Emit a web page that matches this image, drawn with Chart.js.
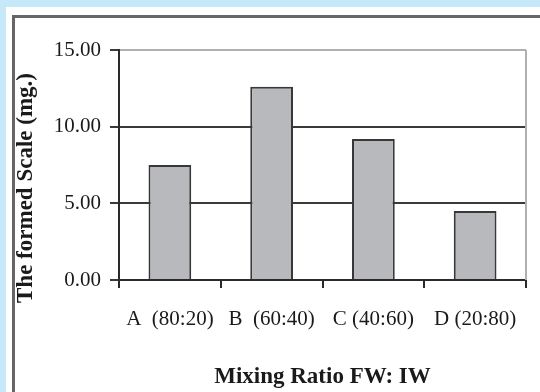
<!DOCTYPE html>
<html>
<head>
<meta charset="utf-8">
<script src="https://cdn.jsdelivr.net/npm/chart.js@4"></script>
<style>
  body { margin: 0; background: #c6e9f9; }
  #panel { position: absolute; left: 6px; top: 7px; width: 534px; height: 385px; background: #fff; }
  #frame { position: absolute; left: 12px; top: 15px; width: 540px; height: 390px;
           border-left: 3px solid #666; border-top: 3px solid #666; }
  #wrap { position: absolute; left: 0; top: 0; width: 540px; height: 392px; }
</style>
</head>
<body>
<div id="panel"></div>
<div id="frame"></div>
<div id="wrap"><canvas id="scaleChart" width="540" height="392"></canvas></div>
<script>
// mixing ratio categories and formed scale (mg.)
const categories = ['A  (80:20)', 'B  (60:40)', 'C (40:60)', 'D (20:80)'];
const scaleValues = [7.5, 12.6, 9.2, 4.5];
const yTicks = [0, 5, 10, 15];
const yTitle = 'The formed Scale (mg.)';
const xTitle = 'Mixing Ratio FW: IW';

const serif = "'Liberation Serif', 'Times New Roman', serif";

// light grey frame on the right side of the plot area + y title
const plotFrame = {
    id: 'plotFrame',
    afterDraw(chart) {
        const { ctx, chartArea } = chart;
        ctx.save();
        ctx.strokeStyle = '#b0b0b0';
        ctx.lineWidth = 2;
        ctx.beginPath();
        ctx.moveTo(chartArea.right, chartArea.top);
        ctx.lineTo(chartArea.right, chartArea.bottom);
        ctx.stroke();
        // y axis title, sits a bit lower than the plot centre
        ctx.translate(26, (chartArea.top + chartArea.bottom) / 2 + 23);
        ctx.rotate(-Math.PI / 2);
        ctx.fillStyle = '#1a1a1a';
        ctx.font = 'bold 23px ' + serif;
        ctx.textAlign = 'center';
        ctx.textBaseline = 'middle';
        ctx.fillText(yTitle, 0, 0);
        ctx.restore();
    }
};

const ctx = document.getElementById('scaleChart').getContext('2d');
const chart = new Chart(ctx, {
    type: 'bar',
    data: {
        labels: categories,
        datasets: [{
            data: scaleValues,
            backgroundColor: '#b7b9bc',
            borderColor: '#383838',
            borderWidth: 2,
            categoryPercentage: 1,
            barPercentage: 0.42
        }]
    },
    options: {
        responsive: false,
        animation: false,
        layout: { padding: { left: 0, top: 50, right: 14, bottom: 0 } },
        plugins: { legend: { display: false }, tooltip: { enabled: false } },
        scales: {
            x: {
                afterFit: (s) => { s.height = 112; },
                border: { color: '#2a2a2a', width: 2 },
                grid: { drawOnChartArea: false, drawTicks: true, tickLength: 8, color: '#2a2a2a', lineWidth: 2 },
                ticks: { color: '#1a1a1a', font: { family: serif, size: 21 }, padding: 19, maxRotation: 0 },
                title: { display: true, text: xTitle, color: '#1a1a1a', font: { family: serif, size: 23, weight: 'bold' }, padding: { top: 0, bottom: 1 } }
            },
            y: {
                min: 0,
                max: 15,
                afterFit: (s) => { s.width = 119; },
                afterBuildTicks: (s) => { s.ticks = yTicks.map(v => ({ value: v })); },
                border: { color: '#2a2a2a', width: 2 },
                grid: {
                    color: (c) => c.tick && c.tick.value === 15 ? '#b0b0b0' : '#3a3a3a',
                    tickColor: '#3a3a3a',
                    lineWidth: 2,
                    tickLength: 9
                },
                ticks: { color: '#1a1a1a', font: { family: serif, size: 21 }, padding: 9,
                         callback: (v) => Number(v).toFixed(2) }
            }
        }
    },
    plugins: [plotFrame]
});
</script>
</body>
</html>
